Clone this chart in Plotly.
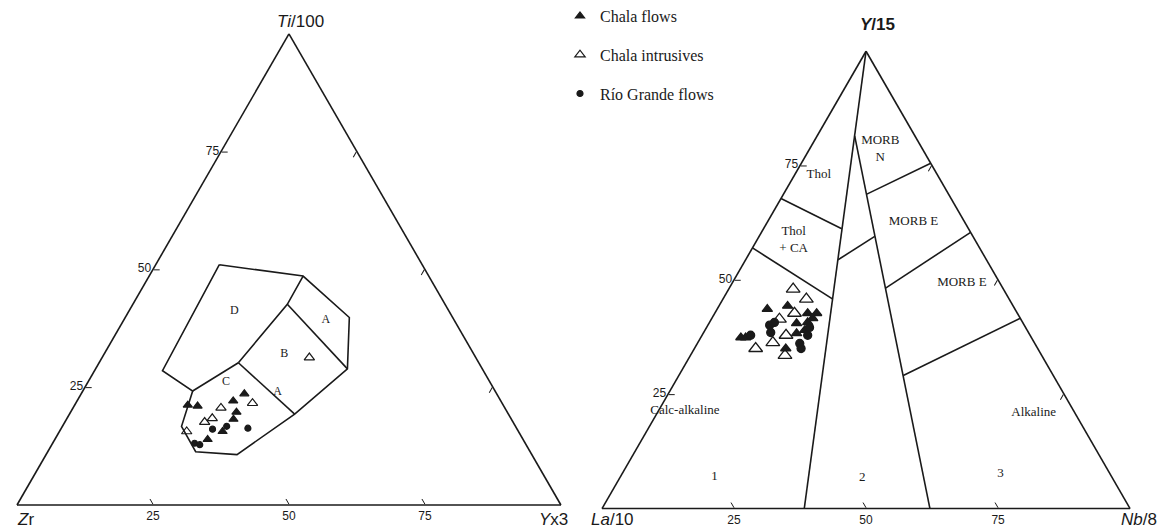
import plotly.graph_objects as go

# ---------------- Left diagram: Ti/100 - Zr - Yx3 (a = Ti, b = Zr, c = Y) ----------------
left_outline_a = [51.0, 48.6, 39.8, 28.9, 19.3, 10.7, 11.3, 16.7, 24.2, 28.5, 51.0]
left_outline_b = [37.3, 23.1, 19.0, 24.8, 39.3, 54.2, 61.5, 61.4, 55.6, 59.0, 37.3]
left_outline_c = [11.7, 28.3, 41.2, 46.3, 41.4, 35.1, 27.2, 21.9, 20.2, 12.5, 11.7]

left_dc_a, left_dc_b, left_dc_c = [24.2, 30.2], [55.6, 44.2], [20.2, 25.6]
left_db_a, left_db_b, left_db_c = [30.2, 42.6, 48.6], [44.2, 29.0, 23.1], [25.6, 28.4, 28.3]
left_ab_a, left_ab_b, left_ab_c = [42.6, 28.9], [29.0, 24.8], [28.4, 46.3]
left_bc_a, left_bc_b, left_bc_c = [30.2, 19.3], [44.2, 39.3], [25.6, 41.4]

left_field_text = ["D", "A", "B", "C", "A"]
left_field_a = [41.1, 39.2, 32.1, 26.1, 24.0]
left_field_b = [39.5, 23.6, 34.8, 48.5, 40.1]
left_field_c = [19.4, 37.2, 33.1, 25.4, 35.9]

left_flows_a = [21.2, 21.0, 22.1, 23.6, 19.7, 18.2, 15.6, 13.9]
left_flows_b = [58.0, 56.3, 49.2, 46.4, 49.8, 51.1, 54.4, 58.0]
left_flows_c = [20.8, 22.7, 28.7, 30.0, 30.5, 30.7, 30.0, 28.1]

left_intr_a = [20.6, 21.6, 17.6, 18.4, 15.6, 31.3]
left_intr_b = [52.2, 45.9, 56.7, 54.9, 61.0, 30.6]
left_intr_c = [27.2, 32.5, 25.7, 26.7, 23.4, 38.1]

left_rg_a = [16.1, 16.7, 16.3, 13.1, 12.8]
left_rg_b = [56.0, 53.1, 49.4, 60.8, 60.0]
left_rg_c = [27.9, 30.2, 34.3, 26.1, 27.2]

# ---------------- Right diagram: Y/15 - La/10 - Nb/8 (a = Y, b = La, c = Nb) ----------------
r_lines = {
    "inner_left": ([100.0, 0.0], [0.0, 61.7], [0.0, 38.3]),
    "inner_right": ([81.5, 0.0], [11.4, 37.9], [7.1, 62.1]),
    "thol_thca": ([67.8, 61.2], [32.2, 24.0], [0.0, 14.8]),
    "thca_ca": ([57.0, 45.8], [43.0, 33.4], [0.0, 20.8]),
    "middle": ([54.4, 59.5], [28.1, 18.6], [17.5, 21.9]),
    "morbn_e": ([68.7, 75.5], [15.6, 0.0], [15.7, 24.5]),
    "morbe_e": ([48.2, 60.4], [22.2, 0.0], [29.6, 39.6]),
    "morbe_alk": ([29.1, 41.6], [28.4, 0.0], [42.5, 58.4]),
}

right_field_text = ["MORB<br>N", "Thol", "Thol<br>+ CA", "MORB E", "MORB E",
                    "Calc-alkaline", "Alkaline", "1", "2", "3"]
right_field_a = [78.6, 72.9, 58.6, 62.8, 49.3, 21.4, 20.9, 7.0, 6.8, 7.7]
right_field_b = [8.0, 22.5, 34.4, 9.6, 7.2, 73.6, 7.8, 75.2, 47.3, 20.7]
right_field_c = [13.4, 4.6, 7.0, 27.6, 43.5, 5.0, 71.3, 17.8, 45.9, 71.6]

right_flows_a = [43.6, 44.3, 42.7, 42.7, 40.5, 37.4, 37.4, 35.0, 40.7, 39.0, 38.3, 41.6]
right_flows_b = [46.9, 42.7, 39.7, 38.0, 42.9, 55.0, 54.1, 47.7, 40.7, 42.1, 44.0, 39.3]
right_flows_c = [9.5, 13.0, 17.6, 19.3, 16.6, 7.6, 8.5, 17.3, 18.6, 18.9, 17.7, 19.1]

right_intr_a = [48.0, 45.8, 41.4, 42.7, 37.9, 36.3, 35.0, 33.5]
right_intr_b = [39.8, 38.4, 45.7, 42.2, 46.2, 49.5, 53.4, 48.6]
right_intr_c = [12.2, 15.8, 12.9, 15.1, 15.9, 14.2, 11.6, 17.9]

right_rg_a = [40.1, 38.5, 37.9, 36.1, 37.9, 39.6, 35.0, 40.7]
right_rg_b = [48.2, 48.8, 52.9, 44.5, 42.1, 40.9, 44.8, 47.0]
right_rg_c = [11.7, 12.7, 9.2, 19.4, 20.0, 19.5, 20.2, 12.3]

tick_vals = [25, 50, 75]
tick_text_rev = ["75", "50", "25"]

# axis titles: (text, x px, y px) as seen on the page
axis_titles = [
    ("<i>Ti</i>/100", 300, 22),
    ("<i>Z</i>r", 25, 519),
    ("<i>Y</i>x3", 553, 519),
    ("<b><i>Y</i>/15</b>", 877, 25),
    ("<i>La</i>/10", 612, 519),
    ("<i>Nb</i>/8", 1139, 519),
]

INK = "#1a1a1a"
SERIF = "Liberation Serif, Times New Roman, serif"
SANS = "Liberation Sans, Arial, sans-serif"
W, H = 1167, 530
PAGE_OFFSET = 8  # default body margin of the html page

fig = go.Figure()


def add_line(sub, a, b, c):
    fig.add_trace(go.Scatterternary(a=a, b=b, c=c, mode="lines", subplot=sub,
                                    line=dict(color=INK, width=1.6),
                                    showlegend=False, hoverinfo="skip"))


# left fields
add_line("ternary", left_outline_a, left_outline_b, left_outline_c)
add_line("ternary", left_dc_a, left_dc_b, left_dc_c)
add_line("ternary", left_db_a, left_db_b, left_db_c)
add_line("ternary", left_ab_a, left_ab_b, left_ab_c)
add_line("ternary", left_bc_a, left_bc_b, left_bc_c)
fig.add_trace(go.Scatterternary(a=left_field_a, b=left_field_b, c=left_field_c,
                                mode="text", text=left_field_text, subplot="ternary",
                                cliponaxis=False,
                                textfont=dict(family=SERIF, size=12, color=INK),
                                showlegend=False, hoverinfo="skip"))

# right fields
for key, (a, b, c) in r_lines.items():
    add_line("ternary2", a, b, c)
fig.add_trace(go.Scatterternary(a=right_field_a, b=right_field_b, c=right_field_c,
                                mode="text", text=right_field_text, subplot="ternary2",
                                cliponaxis=False,
                                textfont=dict(family=SERIF, size=13, color=INK),
                                showlegend=False, hoverinfo="skip"))

# data
series = [
    ("Chala flows", "triangle-up", 8, 9, left_flows_a, left_flows_b, left_flows_c,
     right_flows_a, right_flows_b, right_flows_c),
    ("Chala intrusives", "triangle-up-open", 9, 12, left_intr_a, left_intr_b, left_intr_c,
     right_intr_a, right_intr_b, right_intr_c),
    ("Río Grande flows", "circle", 6, 8, left_rg_a, left_rg_b, left_rg_c,
     right_rg_a, right_rg_b, right_rg_c),
]
for name, sym, size_l, size_r, la, lb, lc, ra, rb, rc in series:
    fig.add_trace(go.Scatterternary(a=la, b=lb, c=lc, mode="markers", name=name,
                                    subplot="ternary", legendgroup=name,
                                    marker=dict(symbol=sym, size=size_l, color=INK,
                                                line=dict(color=INK, width=1.2))))
    fig.add_trace(go.Scatterternary(a=ra, b=rb, c=rc, mode="markers", name=name,
                                    subplot="ternary2", legendgroup=name, showlegend=False,
                                    marker=dict(symbol=sym, size=size_r, color=INK,
                                                line=dict(color=INK, width=1.3))))


def axis(show_labels, ticktext=None):
    d = dict(title=dict(text=""),
             tickmode="array", tickvals=tick_vals,
             ticks="inside", ticklen=6, tickcolor=INK, tickwidth=1,
             showgrid=False, showline=True, linecolor=INK, linewidth=1.6,
             showticklabels=show_labels,
             tickfont=dict(family=SANS, size=12, color=INK), min=0)
    if ticktext is not None:
        d["ticktext"] = ticktext
    return d


annotations = [
    dict(text=t, x=(x - PAGE_OFFSET) / W, y=1 - (y - PAGE_OFFSET) / H,
         xref="paper", yref="paper",
         xanchor="center", yanchor="middle", showarrow=False,
         font=dict(family=SANS, size=17, color=INK))
    for t, x, y in axis_titles
]

fig.update_layout(
    width=W, height=H,
    margin=dict(l=0, r=0, t=0, b=0, autoexpand=False),
    paper_bgcolor="white",
    ternary=dict(
        domain=dict(x=[0.0077, 0.4738], y=[0.0623, 0.9511]),
        sum=100, bgcolor="white",
        aaxis=axis(True),
        baxis=axis(True, tick_text_rev),
        caxis=axis(False),
    ),
    ternary2=dict(
        domain=dict(x=[0.5090, 0.9615], y=[0.0547, 0.9193]),
        sum=100, bgcolor="white",
        aaxis=axis(True),
        baxis=axis(True, tick_text_rev),
        caxis=axis(False),
    ),
    annotations=annotations,
    legend=dict(x=0.473, y=1.017, xanchor="left", yanchor="top",
                bgcolor="rgba(0,0,0,0)", tracegroupgap=15,
                font=dict(family=SERIF, size=16, color=INK)),
)

fig.write_html("out.html")
